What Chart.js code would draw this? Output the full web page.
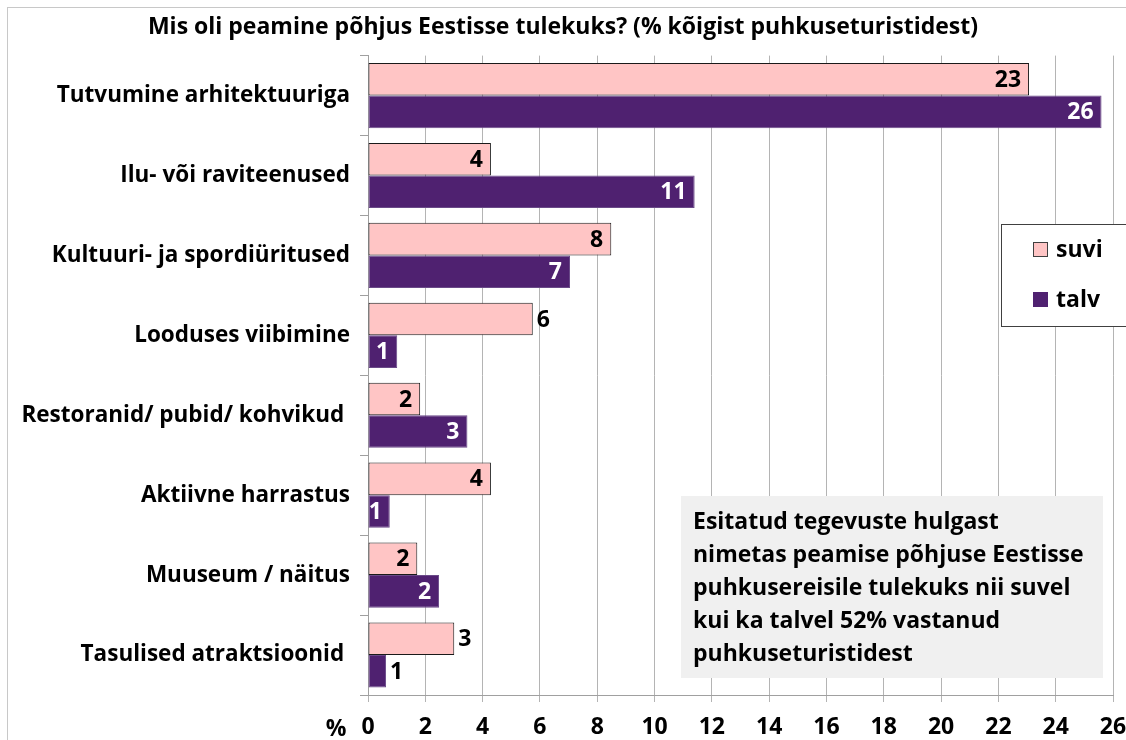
<!DOCTYPE html>
<html>
<head>
<meta charset="UTF-8">
<title>Peamine põhjus</title>
<script src="https://cdn.jsdelivr.net/npm/chart.js@4.4.1/dist/chart.umd.min.js"></script>
<style>
    body { margin: 0; background: #ffffff; }
    #wrap { width: 1126px; height: 740px; }
</style>
</head>
<body>
<div id="wrap"><canvas id="chartCanvas" width="1126" height="740"></canvas></div>

<script>
// categories (top to bottom)
const categories = [
    'Tutvumine arhitektuuriga',
    'Ilu- või raviteenused',
    'Kultuuri- ja spordiüritused',
    'Looduses viibimine',
    'Restoranid/ pubid/ kohvikud ',
    'Aktiivne harrastus',
    'Muuseum / näitus',
    'Tasulised atraktsioonid '
];

// % of all holiday tourists
const suvi = [23.07, 4.29, 8.49, 5.75, 1.82, 4.29, 1.72, 3.01];
const talv = [25.6, 11.4, 7.05, 1.02, 3.47, 0.76, 2.48, 0.63];

// value labels as printed
const suviLabels = ['23', '4', '8', '6', '2', '4', '2', '3'];
const talvLabels = ['26', '11', '7', '1', '3', '1', '2', '1'];

const xTicks = [0, 2, 4, 6, 8, 10, 12, 14, 16, 18, 20, 22, 24, 26];

const titleText = 'Mis oli peamine põhjus Eestisse tulekuks? (% kõigist puhkuseturistidest)';

const noteLines = [
    'Esitatud tegevuste hulgast',
    'nimetas peamise põhjuse Eestisse',
    'puhkusereisile tulekuks nii suvel',
    'kui ka talvel 52% vastanud',
    'puhkuseturistidest'
];

const FONT = '"Open Sans", Roboto, sans-serif';
const PINK = '#ffc5c5';
const PURPLE = '#4f2170';

// which labels sit outside the bar end
const suviOut = [false, false, false, true, false, false, false, true];
const talvOut = [false, false, false, false, false, false, false, true];

const extras = {
    id: 'extras',
    afterDatasetsDraw(chart) {
        const ctx = chart.ctx;
        ctx.save();
        ctx.font = 'bold 23px ' + FONT;
        ctx.textBaseline = 'middle';

        // value labels
        const sets = [
            { idx: 0, labels: suviLabels, out: suviOut, inColor: '#000000' },
            { idx: 1, labels: talvLabels, out: talvOut, inColor: '#ffffff' }
        ];
        sets.forEach(s => {
            chart.getDatasetMeta(s.idx).data.forEach((bar, i) => {
                if (s.out[i]) {
                    ctx.fillStyle = '#000000';
                    ctx.textAlign = 'left';
                    ctx.fillText(s.labels[i], bar.x + 4, bar.y + 1);
                } else {
                    ctx.fillStyle = s.inColor;
                    ctx.textAlign = 'right';
                    ctx.fillText(s.labels[i], bar.x - 8, bar.y + 1);
                }
            });
        });

        // note box
        ctx.fillStyle = '#f0f0f0';
        ctx.fillRect(681, 496, 422, 182);
        ctx.fillStyle = '#000000';
        ctx.textAlign = 'left';
        noteLines.forEach((line, i) => {
            ctx.fillText(line, 693, 522 + i * 33);
        });

        // legend box
        ctx.fillStyle = '#ffffff';
        ctx.fillRect(1001, 224, 140, 103);
        ctx.strokeStyle = '#404040';
        ctx.lineWidth = 1;
        ctx.strokeRect(1001.5, 224.5, 140, 102);
        const ds = chart.data.datasets;
        [250, 300].forEach((y, i) => {
            ctx.fillStyle = ds[i].backgroundColor;
            ctx.fillRect(1033, y - 8, 15, 15);
            if (i === 0) {
                ctx.strokeStyle = '#404040';
                ctx.strokeRect(1033.5, y - 7.5, 14, 14);
            }
            ctx.fillStyle = '#000000';
            ctx.fillText(ds[i].label, 1056, y);
        });

        // % sign next to axis
        ctx.textAlign = 'center';
        ctx.fillText('%', 336, 729);

        // outer frame
        ctx.strokeStyle = '#c8c8c8';
        ctx.strokeRect(7.5, 7.5, 1200, 800);
        ctx.restore();
    }
};

new Chart(document.getElementById('chartCanvas'), {
    type: 'bar',
    data: {
        labels: categories,
        datasets: [
            {
                label: 'suvi',
                data: suvi,
                backgroundColor: PINK,
                borderColor: '#1a1a1a',
                borderWidth: 1,
                borderSkipped: false
            },
            {
                label: 'talv',
                data: talv,
                backgroundColor: PURPLE,
                borderColor: '#6a4a88',
                borderWidth: 1,
                borderSkipped: false
            }
        ]
    },
    options: {
        indexAxis: 'y',
        responsive: false,
        animation: false,
        devicePixelRatio: 1,
        categoryPercentage: 0.815,
        barPercentage: 1,
        layout: { padding: { top: 0, right: 0, bottom: 0, left: 0 } },
        plugins: {
            legend: { display: false },
            tooltip: { enabled: false },
            title: {
                display: true,
                text: titleText,
                color: '#000000',
                font: { family: FONT, size: 23, weight: 'bold', lineHeight: 1.2 },
                padding: { top: 14, bottom: 14 }
            }
        },
        scales: {
            x: {
                min: 0,
                max: 26,
                afterFit: (s) => { s.height = 45; s.paddingRight = 13; s.paddingLeft = 0; },
                afterBuildTicks: (s) => { s.ticks = xTicks.map(v => ({ value: v })); },
                grid: {
                    color: '#b4b4b4',
                    tickLength: 7,
                    drawTicks: true
                },
                border: { color: '#a0a0a0' },
                ticks: {
                    color: '#000000',
                    padding: 12,
                    maxRotation: 0,
                    font: { family: FONT, size: 23, weight: 'bold' }
                }
            },
            y: {
                afterFit: (s) => { s.width = 368; },
                grid: {
                    drawOnChartArea: false,
                    drawTicks: true,
                    tickLength: 8,
                    offset: true,
                    color: '#a0a0a0'
                },
                border: { color: '#a0a0a0' },
                ticks: {
                    color: '#000000',
                    padding: 10,
                    font: { family: FONT, size: 22.5, weight: 'bold' }
                }
            }
        }
    },
    plugins: [extras]
});
</script>
</body>
</html>
